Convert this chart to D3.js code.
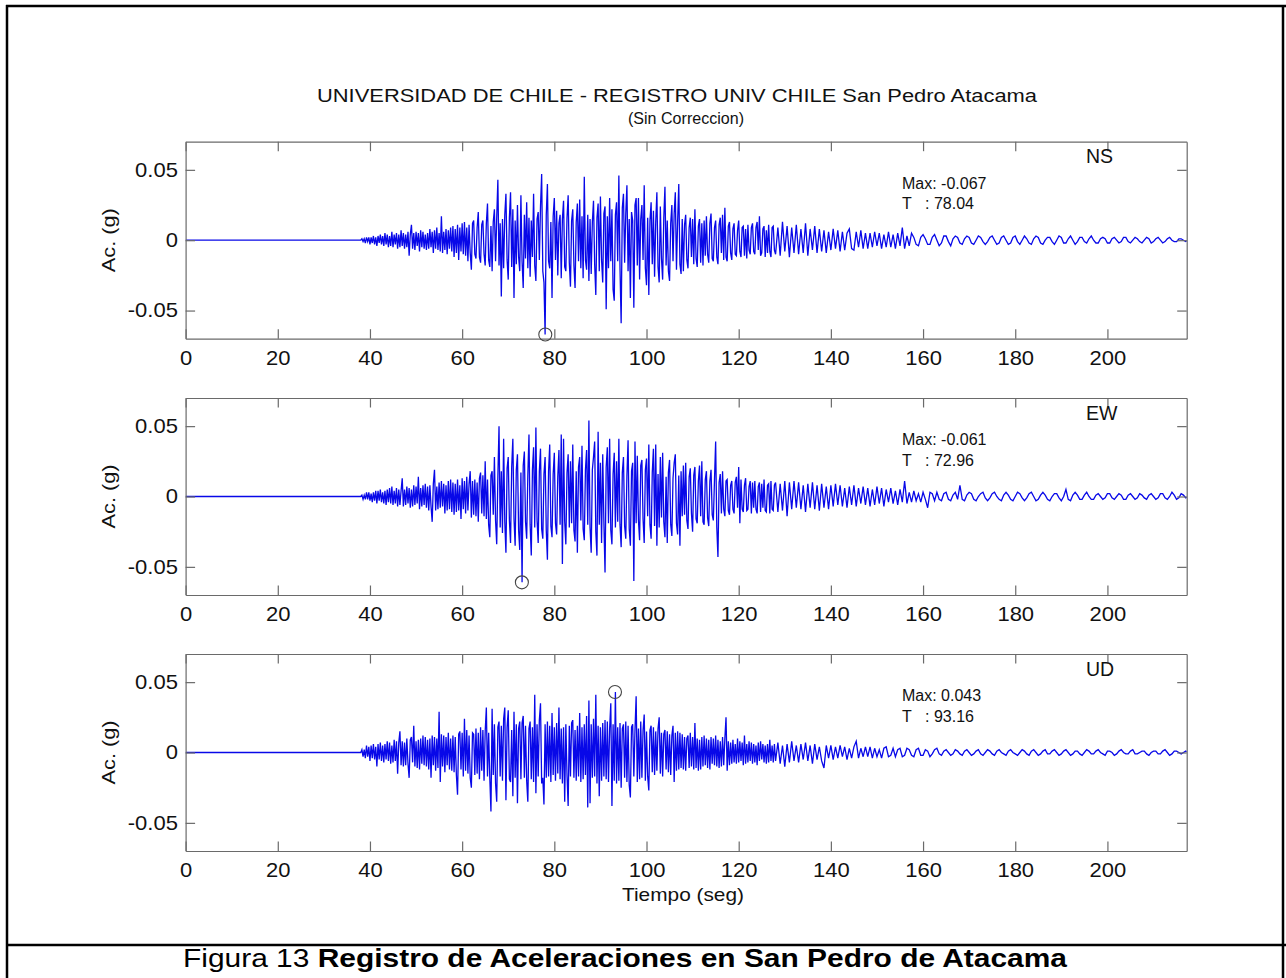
<!DOCTYPE html>
<html><head><meta charset="utf-8">
<script src="https://cdn.jsdelivr.net/npm/d3@7"></script>
<style>
body{margin:0;background:#fff}
text{font-family:"Liberation Sans",Arial,Helvetica,sans-serif;fill:#111}
</style></head>
<body><svg id="c" width="1286" height="978"></svg>
<script>
// ---------------- DATA ----------------
const components = ["NS", "EW", "UD"];
// strong-motion part: one value every 0.25 s from t = 38 s to 127.75 s (milli-g); trace is 0 before 38 s
const strongStart = 38, strongDt = 0.25;
// coda: one value every 0.5 s from t = 128 s to 217.5 s (milli-g)
const codaStart = 128, codaDt = 0.5;

const ns_strong_mg = [
 0,1,-1,1,-2,2,-1,2,-3,2,-2,3,-3,2,-4,3,-2,4,-3,3,                    // 38
 -4,5,-3,4,-5,3,-4,6,-5,4,-3,5,-6,4,-5,7,-4,5,-6,4,                    // 43
 -5,6,-11,4,11,-6,5,-7,6,-4,5,-8,7,-5,6,-6,4,-7,5,-6,                  // 48
 8,-5,6,-9,7,-6,9,-7,5,-8,17,-9,6,-7,8,-10,7,-6,9,-8,                  // 53
 10,-12,8,-9,11,-14,9,-8,12,-10,13,-11,9,-15,11,-9,-21,12,14,-10,      // 58
 -13,9,20,-12,-16,11,14,-10,-18,12,26,-14,-19,10,-22,13,22,-15,16,43,  // 63
 -18,12,-40,15,-20,18,33,-14,-28,16,34,-19,22,-41,14,-17,25,-12,-22,32, // 68
 -15,-34,18,-13,27,-20,16,-26,14,-12,33,-18,-29,15,20,-14,24,47,-22,-30, // 73
 -67,18,40,-15,-20,13,-41,17,30,-14,21,-25,12,18,-27,15,28,-19,-22,16, // 78
 32,-16,-33,14,22,-18,-34,13,26,-15,29,-20,17,-27,45,-14,-21,18,-29,15, // 83
 -24,13,28,-17,-39,16,26,-22,31,-14,-30,19,24,-49,17,-20,30,-15,22,-35, // 88
 -43,18,27,-15,46,-20,-59,23,33,-16,19,39,-22,15,-41,20,14,-48,25,30,  // 93
 -18,30,-28,15,25,-14,39,-20,-32,16,-39,14,27,-17,21,-26,13,34,-19,-30, // 98
 24,-13,-28,16,38,-18,14,-22,-29,12,25,-15,19,34,-21,13,40,-17,-24,15, // 103
 -22,11,18,-14,-20,9,16,-12,15,-17,22,-13,-19,10,15,-16,12,-18,14,-11, // 108
 17,-10,-16,12,19,-13,-15,9,14,-12,-17,11,16,-9,18,-14,23,-12,-15,10,  // 113
 13,-9,-14,8,12,-10,-11,7,14,-8,-12,9,10,-11,8,-13,11,-7,-10,9,        // 118
 12,-8,-10,9,13,-7,17,-11,-9,8,10,-12,7,-9,11,-8,-12,9,10,-7           // 123
];
const ns_coda_mg = [
 -10,9,-11,13,-8,10,-12,9,-9,11,-10,8,-9,12,-11,8,-7,10,-9,8,          // 128
 -8,7,-9,6,-7,8,-6,7,-8,6,-7,5,8,-6,-7,6,-5,7,-6,5,                    // 138
 -6,5,-5,6,-4,5,-6,4,-5,6,-5,4,-6,5,-4,9,-6,3,-4,5,                    // 148
 2,-3,-4,2,4,1,-3,-3,2,4,0,-4,-2,3,3,-1,-4,1,3,2,                      // 158
 -2,-3,1,3,2,-2,-3,0,3,2,-1,-3,-1,2,3,0,-3,-2,2,3,                     // 168
 0,-3,-2,2,3,-1,-3,0,3,1,-2,-3,1,3,2,-2,-3,0,2,2,                      // 178
 -1,-3,0,3,2,-2,-2,1,3,0,-3,-1,2,2,-1,-2,1,3,0,-2,                     // 188
 -2,1,2,1,-2,-2,1,2,0,-2,-1,2,2,-1,-2,0,2,1,-1,-2,                     // 198
 0,2,1,-2,-1,1,2,0,-2,-1,1,2,0,-1,-1,1,1,0,-1,0                        // 208
];
const ew_strong_mg = [
 0,1,-2,1,-2,3,-2,3,-3,2,-4,3,-3,4,-5,4,-3,5,-4,3,                     // 38
 -5,4,-6,5,-4,6,-5,7,-6,4,-5,6,-7,5,-6,4,13,-7,5,-6,                   // 43
 7,-5,6,-8,5,-7,8,-6,7,-5,14,-9,6,-7,8,-6,9,-8,7,-10,                  // 48
 8,-7,-18,9,19,-10,7,-9,10,-8,11,-7,9,-12,8,-10,11,-9,12,-11,          // 53
 10,-13,9,-11,12,-10,8,-16,13,-9,11,-12,14,-10,9,18,-15,11,-13,12,     // 58
 -14,10,-18,13,17,-12,15,-14,25,-16,12,-20,-29,15,18,-13,28,-17,-34,14, // 63
 50,-22,18,-26,41,-18,-40,20,28,-17,-33,21,41,-16,-35,19,30,-24,-38,17, // 68
 -61,22,32,-18,-30,15,44,-20,-42,19,35,-22,49,-17,-33,18,34,-23,-30,16, // 73
 28,-24,-45,18,37,-21,-29,16,31,-19,-27,14,33,-20,44,-48,41,-18,-34,17, // 78
 30,-22,25,-19,37,-24,-32,18,-40,21,28,-17,36,-23,-31,19,33,-20,54,-22, // 83
 -40,19,28,39,-25,-42,46,-20,24,-33,30,-18,-54,21,35,-19,41,-24,-34,16, // 88
 31,-22,25,-18,41,-20,-36,17,28,-21,-30,15,40,-23,-35,18,24,-60,39,-19, // 93
 29,-17,-31,22,26,-16,-33,19,27,-14,37,-20,-30,17,34,-21,37,-35,16,-22, // 98
 28,-15,31,-18,-29,14,-33,17,26,-20,-28,13,24,30,-19,-27,15,-35,18,-14, // 103
 22,-13,24,-17,-23,14,20,-12,-25,15,21,-16,-19,11,22,-14,25,-18,-20,12, // 108
 18,-15,-21,11,19,-13,-17,12,39,-22,-43,10,16,-12,18,-9,-14,11,12,-10, // 113
 -13,8,11,-9,-12,10,14,-8,21,-19,12,-9,-11,8,13,-10,-9,7,11,-12,       // 118
 10,-8,11,-9,-12,7,10,-11,9,-8,12,-10,-11,8,9,-12,11,-9,-10,8          // 123
];
const ew_coda_mg = [
 10,-11,9,-10,11,-14,10,-9,11,-8,10,-9,8,-11,9,-8,10,-9,8,-10,         // 128
 9,-8,7,-9,8,-7,9,-6,8,-7,6,-8,7,-6,8,-7,6,-5,7,-6,                    // 138
 6,-7,5,-6,7,-5,6,-7,5,-4,6,-5,4,-6,5,-4,11,-5,3,-4,                   // 148
 4,-3,2,-4,3,-2,-8,3,2,-3,3,-2,-3,2,3,-2,-3,1,3,-2,                    // 158
 8,-2,-3,1,3,2,-2,-3,0,2,3,-1,-3,-1,2,3,0,-2,-3,1,                     // 168
 3,1,-2,-3,0,3,2,-1,-3,-1,2,3,0,-3,-2,1,3,1,-2,-3,                     // 178
 0,2,2,-1,-3,0,5,-2,-3,1,3,1,-2,-2,1,3,0,-2,-2,1,                      // 188
 2,0,-2,-1,2,2,-1,-2,0,2,1,-2,-2,1,2,0,-2,-1,2,1,                      // 198
 -1,-2,1,2,0,-2,-1,2,2,-1,-2,0,3,1,-2,-1,2,1,-1,0                      // 208
];
const ud_strong_mg = [
 0,2,-3,2,-4,5,-3,4,-6,5,-4,6,-5,4,-10,6,-5,7,-6,5,                    // 38
 -7,6,-5,8,-6,7,-8,5,-7,9,-6,8,-15,7,15,-9,8,-10,7,-9,                 // 43
 10,-8,-18,9,11,-7,19,-10,8,-11,9,-12,10,-8,12,-9,11,-10,9,-12,        // 48
 10,-18,12,-9,11,-13,10,-11,29,-21,13,-10,12,-14,11,-9,14,-12,10,-13,  // 53
 12,-14,11,-16,-30,13,15,-12,14,-17,24,-13,16,-15,12,-18,-25,14,13,-16, // 58
 17,-15,14,-19,18,-13,16,-20,15,32,-17,14,-18,-42,31,-16,20,-22,-35,18, // 63
 22,-17,19,-20,24,32,-34,18,30,-19,-21,16,-31,29,-18,20,-36,17,22,-19, // 68
 21,26,-18,19,-20,-35,17,22,-19,18,-21,41,-29,20,-17,23,35,-22,-18,-37, // 73
 20,-18,22,-17,19,-21,28,-16,18,-20,21,-15,32,-19,17,-22,18,-35,20,-16, // 78
 -38,19,-17,21,23,-18,16,-20,19,-17,28,-21,18,-19,20,-16,26,-39,37,-36, // 83
 20,-18,24,-17,41,-22,19,-31,18,-20,21,-17,23,-19,22,-21,17,35,-38,20, // 88
 -20,43,-22,18,-20,21,-25,17,20,-18,22,-21,19,-23,-32,18,20,-17,16,40, // 93
 -21,17,-19,22,-18,16,27,-20,15,-17,-27,16,19,-14,18,-16,15,-13,17,25, // 98
 -15,14,-17,13,16,-12,15,-14,13,-16,12,19,-21,14,-13,15,-12,14,-11,13, // 103
 -12,11,-13,10,12,-11,14,-10,11,-12,21,-11,10,-13,9,-12,11,-10,12,-9,  // 108
 10,-11,9,-12,11,-8,10,-9,12,-10,9,-11,8,-10,11,-9,10,25,-13,8,        // 113
 -9,7,-8,9,-7,6,-8,10,-7,8,-6,7,-9,12,-8,6,-7,8,-6,7,                  // 118
 -8,6,-7,5,-9,7,-6,8,-5,6,-7,5,-8,6,-7,9,-6,5,-7,6                     // 123
];
const ud_coda_mg = [
 -6,7,-8,5,-10,6,-7,8,-6,5,-7,6,-5,7,-6,5,-8,6,-5,4,                   // 128
 -6,-11,5,-4,5,-5,4,-4,5,-3,4,-5,3,-4,4,8,-4,3,-3,4,                   // 138
 -3,4,-4,3,-3,2,-4,3,4,-3,-2,3,-3,2,3,-3,-2,3,2,-2,                    // 148
 -3,2,3,-2,-2,2,1,-3,-1,2,3,-1,-2,1,2,0,-2,-1,2,1,                     // 158
 -1,-2,1,2,0,-2,-1,1,2,-1,-2,0,2,1,-1,-2,1,2,0,-1,                     // 168
 -2,1,2,0,-1,-2,0,2,1,-1,-2,1,2,0,-2,-1,1,2,-1,-1,                     // 178
 1,2,0,-2,-1,1,2,0,-2,-1,1,1,-1,-2,0,2,1,-1,-1,1,                      // 188
 2,0,-1,-2,1,1,0,-2,-1,1,2,0,-1,-1,1,2,-1,-1,0,1,                      // 198
 1,-1,-2,0,1,1,-1,-1,1,2,0,-2,-1,1,1,0,-1,0,1,0                        // 208
];
const peakValue = [-0.067, -0.061, 0.043];
const peakTime  = [78.04, 72.96, 93.16];
const xTicks = [0, 20, 40, 60, 80, 100, 120, 140, 160, 180, 200];
const yTicks = [-0.05, 0, 0.05];
const yTickLabels = ["-0.05", "0", "0.05"];
const xMax = 217.2, yLim = 0.07;
const titleText = "UNIVERSIDAD DE CHILE - REGISTRO UNIV CHILE San Pedro Atacama";
const subtitleText = "(Sin Correccion)";
const xLabelText = "Tiempo (seg)";
const yLabelText = "Ac. (g)";

// ---------------- DRAW ----------------
const svg = d3.select("#c");
const W = 1286, H = 978;
svg.append("rect").attr("width", W).attr("height", H).attr("fill", "#fff");

const frame = svg.append("g").attr("stroke", "#000").attr("stroke-width", 2.5);
frame.append("line").attr("x1", 7).attr("x2", 7).attr("y1", 5).attr("y2", H);
frame.append("line").attr("x1", 6).attr("x2", W).attr("y1", 6).attr("y2", 6);
frame.append("line").attr("x1", 1283).attr("x2", 1283).attr("y1", 5).attr("y2", H);
frame.append("line").attr("x1", 6).attr("x2", W).attr("y1", 945).attr("y2", 945);

const left = 185.6, right = 1186.7, ph = 197;
const tops = [141.7, 398, 654];
const x = d3.scaleLinear().domain([0, xMax]).range([left, right]);
const strong = [ns_strong_mg, ew_strong_mg, ud_strong_mg];
const coda = [ns_coda_mg, ew_coda_mg, ud_coda_mg];
const axisColor = "#6a6a6a";
const tickLen = 9.5;

svg.append("text").attr("x", 677).attr("y", 102).attr("text-anchor", "middle")
  .attr("font-size", 17.5).attr("textLength", 720).attr("lengthAdjust", "spacingAndGlyphs")
  .text(titleText);
svg.append("text").attr("x", 686).attr("y", 124).attr("text-anchor", "middle")
  .attr("font-size", 17).attr("textLength", 116).attr("lengthAdjust", "spacingAndGlyphs")
  .text(subtitleText);

components.forEach((name, k) => {
  const top = tops[k], bottom = top + ph;
  const y = d3.scaleLinear().domain([-yLim, yLim]).range([bottom, top]);
  const g = svg.append("g");
  const clipId = "clip" + k;
  svg.append("clipPath").attr("id", clipId).append("rect")
    .attr("x", left).attr("y", top).attr("width", right - left).attr("height", ph);

  const pts = [{t: 0, a: 0}]
    .concat(strong[k].map((v, i) => ({t: strongStart + i * strongDt, a: v / 1000})))
    .concat(coda[k].map((v, i) => ({t: codaStart + i * codaDt, a: v / 1000})));
  const line = d3.line().x(d => x(d.t)).y(d => y(d.a));
  g.append("path").datum(pts).attr("clip-path", `url(#${clipId})`)
    .attr("fill", "none").attr("stroke", "#0808e8").attr("stroke-width", 1.3)
    .attr("d", line);

  const fmtY = v => yTickLabels[yTicks.indexOf(v)];
  const axB = d3.axisBottom(x).tickValues(xTicks).tickSizeInner(-tickLen).tickSizeOuter(0).tickPadding(12).tickFormat(d3.format("d"));
  const axT = d3.axisTop(x).tickValues(xTicks).tickSizeInner(-tickLen).tickSizeOuter(0).tickFormat("");
  const axL = d3.axisLeft(y).tickValues(yTicks).tickSizeInner(-tickLen).tickSizeOuter(0).tickPadding(7).tickFormat(fmtY);
  const axR = d3.axisRight(y).tickValues(yTicks).tickSizeInner(-tickLen).tickSizeOuter(0).tickFormat("");
  const styleAx = sel => {
    sel.selectAll("path").attr("stroke", axisColor).attr("stroke-width", 1.2);
    sel.selectAll("line").attr("stroke", axisColor).attr("stroke-width", 1.2);
    sel.selectAll("text").attr("font-size", 20).attr("fill", "#111")
      .attr("font-family", '"Liberation Sans",Arial,sans-serif')
      .attr("transform", "scale(1.1,1)");
  };
  g.append("g").attr("transform", `translate(0,${bottom})`).call(axB).call(styleAx);
  g.append("g").attr("transform", `translate(0,${top})`).call(axT).call(styleAx);
  g.append("g").attr("transform", `translate(${left},0)`).call(axL).call(styleAx);
  g.append("g").attr("transform", `translate(${right},0)`).call(axR).call(styleAx);

  g.append("circle").attr("cx", x(peakTime[k])).attr("cy", y(peakValue[k])).attr("r", 6.5)
    .attr("fill", "none").attr("stroke", "#444").attr("stroke-width", 1.1);

  g.append("text").attr("x", 1086).attr("y", top + 21.5).attr("font-size", 19.5).text(name);
  const maxTxt = "Max: " + (peakValue[k] < 0 ? "-" : "") + Math.abs(peakValue[k]).toFixed(3);
  g.append("text").attr("x", 902).attr("y", top + 47).attr("font-size", 16).text(maxTxt);
  const tl = g.append("text").attr("y", top + 67.5).attr("font-size", 16);
  tl.append("tspan").attr("x", 902).text("T");
  tl.append("tspan").attr("x", 925).text(": " + peakTime[k].toFixed(2));

  g.append("text").attr("transform", `translate(115,${y(0)}) rotate(-90)`)
    .attr("text-anchor", "middle").attr("font-size", 18.5)
    .attr("textLength", 64).attr("lengthAdjust", "spacingAndGlyphs").text(yLabelText);
});

svg.append("text").attr("x", 683).attr("y", 901).attr("text-anchor", "middle")
  .attr("font-size", 19).attr("textLength", 122).attr("lengthAdjust", "spacingAndGlyphs")
  .text(xLabelText);

const cap = svg.append("text").attr("x", 625).attr("y", 967).attr("text-anchor", "middle")
  .attr("font-size", 26).attr("textLength", 884).attr("lengthAdjust", "spacingAndGlyphs")
  .style("fill", "#000");
cap.append("tspan").text("Figura 13 ");
cap.append("tspan").attr("font-weight", "bold").text("Registro de Aceleraciones en San Pedro de Atacama");
</script>
</body></html>
